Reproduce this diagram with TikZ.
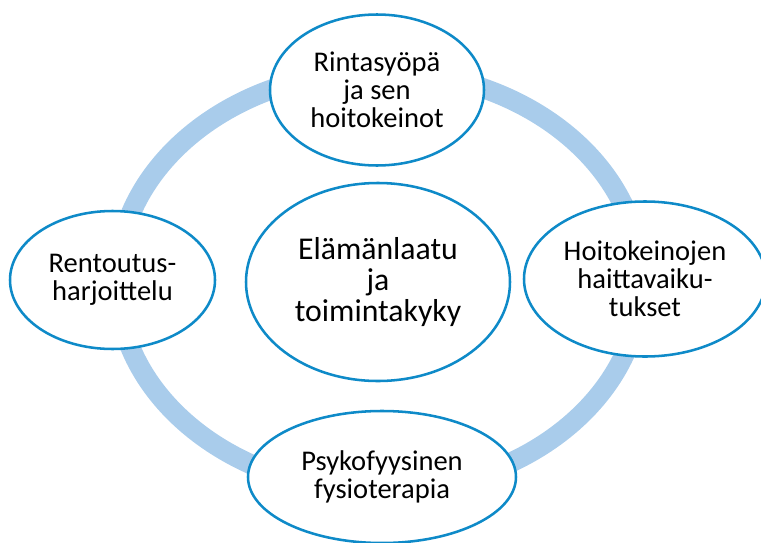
\documentclass[tikz,border=0pt]{standalone}
\usepackage{fontspec}
\setmainfont{Carlito}
\usetikzlibrary{shapes.geometric}
\definecolor{ringblue}{HTML}{A9CCEB}
\definecolor{edgeblue}{HTML}{0E8AC8}
\begin{document}
\begin{tikzpicture}[x=0.75pt, y=-0.75pt,
  bubble/.style={ellipse, draw=edgeblue, line width=1.9pt, fill=white, align=center, inner sep=0pt,
    font=\fontsize{21.4}{21}\selectfont},
  hub/.style={bubble, font=\fontsize{23.8}{23.5}\selectfont}]
  \clip (0,0) rectangle (761,543);
  \useasboundingbox (0,0) rectangle (761,543);
  % background ring
  \draw[ringblue, line width=15pt] (379,281) ellipse [x radius=262, y radius=210];
  % outer topics
  \node[bubble, minimum width=160.5pt, minimum height=113.25pt] (syopa) at (377,90) {Rintasyöpä\\ja sen\\hoitokeinot};
  \node[bubble, minimum width=181.5pt, minimum height=116.25pt] (haitat) at (645,279) {Hoitokeinojen\\haittavaiku-\\tukset};
  \node[bubble, minimum width=201pt, minimum height=99pt] (fysio) at (382,477) {Psykofyysinen\\fysioterapia};
  \node[bubble, minimum width=153.75pt, minimum height=103.5pt] (rentous) at (112.5,280) {Rentoutus-\\harjoittelu};
  % centre
  \node[hub, minimum width=198pt, minimum height=148.5pt] (laatu) at (378,282) {Elämänlaatu\\ja\\toimintakyky};
\end{tikzpicture}
\end{document}
